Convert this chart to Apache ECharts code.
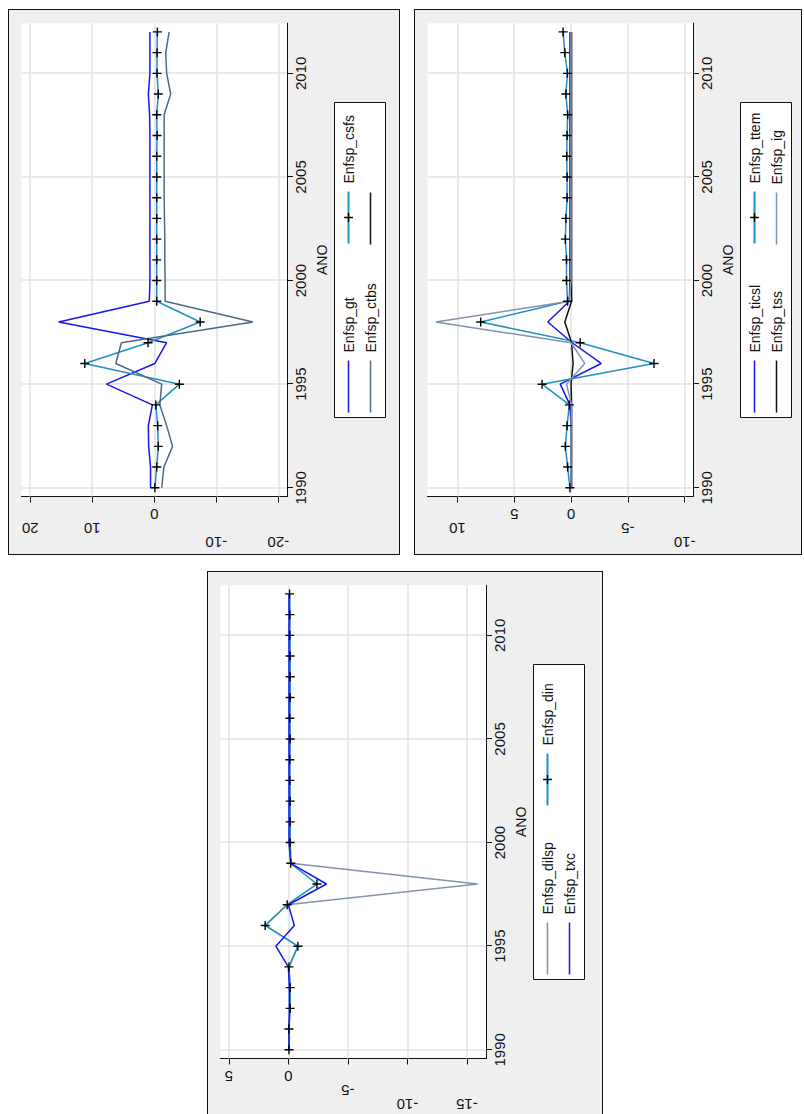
<!DOCTYPE html>
<html>
<head>
<meta charset="utf-8">
<script src="https://cdn.jsdelivr.net/npm/echarts@6/dist/echarts.min.js"></script>
<style>
  html, body { margin: 0; padding: 0; background: #fff; width: 804px; height: 1114px; overflow: hidden; }
  /* the combined graph is laid out as a landscape page and turned a quarter turn */
  #page { position: absolute; left: 0; top: 1114px; width: 1114px; height: 804px;
          transform-origin: 0 0; transform: rotate(-90deg); }
  .panel { position: absolute; box-sizing: border-box; border: 1.5px solid #111; background: #efefef; }
  .chart { position: absolute; left: 0; top: 0; right: 0; bottom: 0; }
</style>
</head>
<body>
<div id="page">
  <div class="panel" style="left:559px; top:8px; width:546px; height:392px;"><div class="chart" id="c1"></div></div>
  <div class="panel" style="left:559px; top:414px; width:546px; height:388px;"><div class="chart" id="c2"></div></div>
  <div class="panel" style="left:-3px; top:207px; width:546px; height:396px;"><div class="chart" id="c3"></div></div>
</div>
<script>
// ---- data -------------------------------------------------------------
const years = [1990, 1991, 1992, 1993, 1994, 1995, 1996, 1997, 1998, 1999, 2000,
               2001, 2002, 2003, 2004, 2005, 2006, 2007, 2008, 2009, 2010, 2011, 2012];
const yearTicks = [1990, 1995, 2000, 2005, 2010];

// panel: gt / csfs / ctbs
const enfspGt   = [0.6, 0.6, 0.9, 0.95, 0.3, 7.7, -0.1, -2.0, 15.4, 0.8, 0.7, 0.7, 0.7, 0.7, 0.7, 0.7, 0.7, 0.7, 0.75, 0.95, 0.7, 0.7, 0.7];
const enfspCsfs = [-0.1, -0.4, -0.65, -0.55, -0.25, -4.05, 11.2, 1.0, -7.4, -0.4, -0.4, -0.4, -0.4, -0.4, -0.4, -0.4, -0.4, -0.45, -0.4, -0.65, -0.45, -0.45, -0.5];
const enfspCtbs = [-1.2, -1.55, -2.95, -2.0, -0.9, -1.2, 6.2, 5.3, -15.9, -1.75, -1.75, -1.7, -1.7, -1.65, -1.6, -1.6, -1.6, -1.6, -1.6, -2.65, -2.0, -1.85, -2.4];
const enfspBlank = [];
const ticksA = [-20, -10, 0, 10, 20];

// panel: ticsl / ttem / tss / ig
const enfspTicsl = [0, 0, 0, 0, 0.1, 0.95, -2.65, -0.1, 2.05, 0.15, 0.1, 0.1, 0.1, 0.1, 0.1, 0.1, 0.1, 0.1, 0.1, 0.1, 0.1, 0.1, 0.1];
const enfspTtem  = [0.1, 0.3, 0.5, 0.35, 0.15, 2.55, -7.3, -0.8, 7.95, 0.3, 0.4, 0.4, 0.5, 0.45, 0.35, 0.35, 0.38, 0.35, 0.3, 0.45, 0.32, 0.55, 0.7];
const enfspTss   = [-0.05, -0.05, -0.05, -0.05, -0.05, 0, -0.18, -0.05, 0.55, -0.05, -0.05, -0.05, -0.05, -0.05, -0.05, -0.05, -0.05, -0.05, -0.05, -0.05, -0.05, -0.05, -0.05];
const enfspIg    = [0, 0, 0, 0, -0.05, 0.4, -1.2, 0, 11.9, 0.15, 0, 0, 0, 0, 0, 0, 0, 0, 0, 0, 0, 0, 0];
const ticksB = [-10, -5, 0, 5, 10];

// panel: dilsp / din / txc
const enfspDilsp = [-0.05, -0.05, -0.15, -0.15, -0.05, -0.8, 1.95, 0.1, -15.9, -0.2, -0.15, -0.15, -0.15, -0.12, -0.12, -0.15, -0.12, -0.15, -0.15, -0.15, -0.12, -0.12, -0.1];
const enfspDin   = [-0.05, -0.05, -0.15, -0.15, -0.05, -0.8, 1.95, 0.1, -2.4, -0.2, -0.15, -0.15, -0.15, -0.12, -0.12, -0.15, -0.12, -0.15, -0.15, -0.15, -0.12, -0.12, -0.1];
const enfspTxc   = [-0.05, -0.05, -0.08, -0.08, 0, 1.05, -0.5, 0, -3.2, -0.2, -0.05, -0.05, -0.05, -0.05, -0.05, -0.05, -0.05, -0.05, -0.05, -0.05, -0.05, -0.05, -0.05];
const ticksC = [-15, -10, -5, 0, 5];

// ---- styling ----------------------------------------------------------
const FONT = 'Liberation Sans, Arial, sans-serif';
const PLUS = 'path://M3.8,0h1.4v3.8h3.8v1.4h-3.8v3.8h-1.4v-3.8h-3.8v-1.4h3.8z';
const KEY  = 'path://M0,0H52V1.5H0Z';
const BLUE = '#1616f2', TEAL = '#1f90c0', SLATE = '#4c6a84', BLACK = '#111111', LIGHT = '#8194ae';
const GRIDC = '#e2e2e2';

// value-axis labels sit further out the longer they are
function labelRich() {
  const base = { fontFamily: FONT, fontSize: 15, color: '#111', lineHeight: 17 };
  return {
    n1: Object.assign({ padding: [0, 0, 13, 0] }, base),
    n2: Object.assign({ padding: [0, 0, 40, 0] }, base),
    n3: Object.assign({ padding: [0, 0, 68, 0] }, base)
  };
}

function drawPanel(id, cfg) {
  const chart = echarts.init(document.getElementById(id), null, { renderer: 'svg' });
  const series = cfg.lines.map((s, i) => {
    const item = {
      type: 'line',
      name: s.name,
      data: s.values.map((v, k) => [years[k], v]),
      symbol: s.marker ? PLUS : 'none',
      symbolSize: 9,
      showSymbol: !!s.marker,
      lineStyle: { color: s.color, width: 1.5 },
      itemStyle: { color: s.marker ? '#000' : s.color },
      emphasis: { disabled: true },
      animation: false
    };
    if (i === 0) {
      item.markLine = {
        silent: true,
        z: 1,
        symbol: ['none', 'none'],
        label: { show: false },
        emphasis: { disabled: true },
        animation: false,
        lineStyle: { color: GRIDC, width: 1.5, type: 'solid' },
        data: yearTicks.map(v => ({ xAxis: v })).concat(cfg.ticks.map(v => ({ yAxis: v })))
      };
    }
    return item;
  });

  const legendData = cfg.lines.map((s, i) => {
    const d = { name: s.name, textStyle: { width: i % 2 === 0 ? 102 : 75 } };
    if (!s.marker) d.icon = KEY;
    return d;
  });

  chart.setOption({
    animation: false,
    grid: { left: 57.5, top: 12.5, width: 473.3, height: 265.5, show: true, backgroundColor: '#fff', borderWidth: 0 },
    xAxis: {
      type: 'value', min: 1989.58, max: 2012.42,
      name: 'ANO', nameLocation: 'middle', nameGap: 25,
      nameTextStyle: { fontFamily: FONT, fontSize: 14, color: '#111', lineHeight: 16 },
      axisLine: { onZero: false, lineStyle: { color: '#111', width: 1 } },
      axisTick: { customValues: yearTicks, length: 6, lineStyle: { color: '#111', width: 1 } },
      axisLabel: { customValues: yearTicks, margin: 5, fontFamily: FONT, fontSize: 15, color: '#111', lineHeight: 17,
                   formatter: v => String(v) },
      splitLine: { show: false }
    },
    yAxis: {
      type: 'value', min: cfg.min, max: cfg.max,
      axisLine: { onZero: false, lineStyle: { color: '#111', width: 1 } },
      axisTick: { customValues: cfg.ticks, length: 6, lineStyle: { color: '#111', width: 1 } },
      axisLabel: {
        customValues: cfg.ticks, rotate: 90, margin: 3,
        align: 'center', verticalAlign: 'bottom',
        formatter: v => '{n' + Math.min(String(v).length, 3) + '|' + v + '}',
        rich: labelRich()
      },
      splitLine: { show: false }
    },
    legend: {
      data: legendData,
      selectedMode: false,
      orient: 'horizontal',
      left: 136.5, top: 325.5, width: 310,
      itemWidth: 52, itemHeight: 11, itemGap: 6,
      padding: [6, 6, 7, 5],
      backgroundColor: '#fff', borderColor: '#111', borderWidth: 1,
      textStyle: { fontFamily: FONT, fontSize: 14, color: '#111', lineHeight: 16, padding: [0, 0, 0, 3] }
    },
    series: series
  });
}

drawPanel('c1', {
  min: -21.4, max: 21.4, ticks: ticksA,
  lines: [
    { name: 'Enfsp_gt',   values: enfspGt,   color: BLUE },
    { name: 'Enfsp_csfs', values: enfspCsfs, color: TEAL, marker: true },
    { name: 'Enfsp_ctbs', values: enfspCtbs, color: SLATE },
    { name: ' ',          values: enfspBlank, color: BLACK }
  ]
});

drawPanel('c2', {
  min: -10.73, max: 12.63, ticks: ticksB,
  lines: [
    { name: 'Enfsp_ticsl', values: enfspTicsl, color: BLUE },
    { name: 'Enfsp_ttem',  values: enfspTtem,  color: TEAL, marker: true },
    { name: 'Enfsp_tss',   values: enfspTss,   color: BLACK },
    { name: 'Enfsp_ig',    values: enfspIg,    color: LIGHT }
  ]
});

drawPanel('c3', {
  min: -16.6, max: 5.7, ticks: ticksC,
  lines: [
    { name: 'Enfsp_dilsp', values: enfspDilsp, color: LIGHT },
    { name: 'Enfsp_din',   values: enfspDin,   color: TEAL, marker: true },
    { name: 'Enfsp_txc',   values: enfspTxc,   color: BLUE }
  ]
});
</script>
</body>
</html>
